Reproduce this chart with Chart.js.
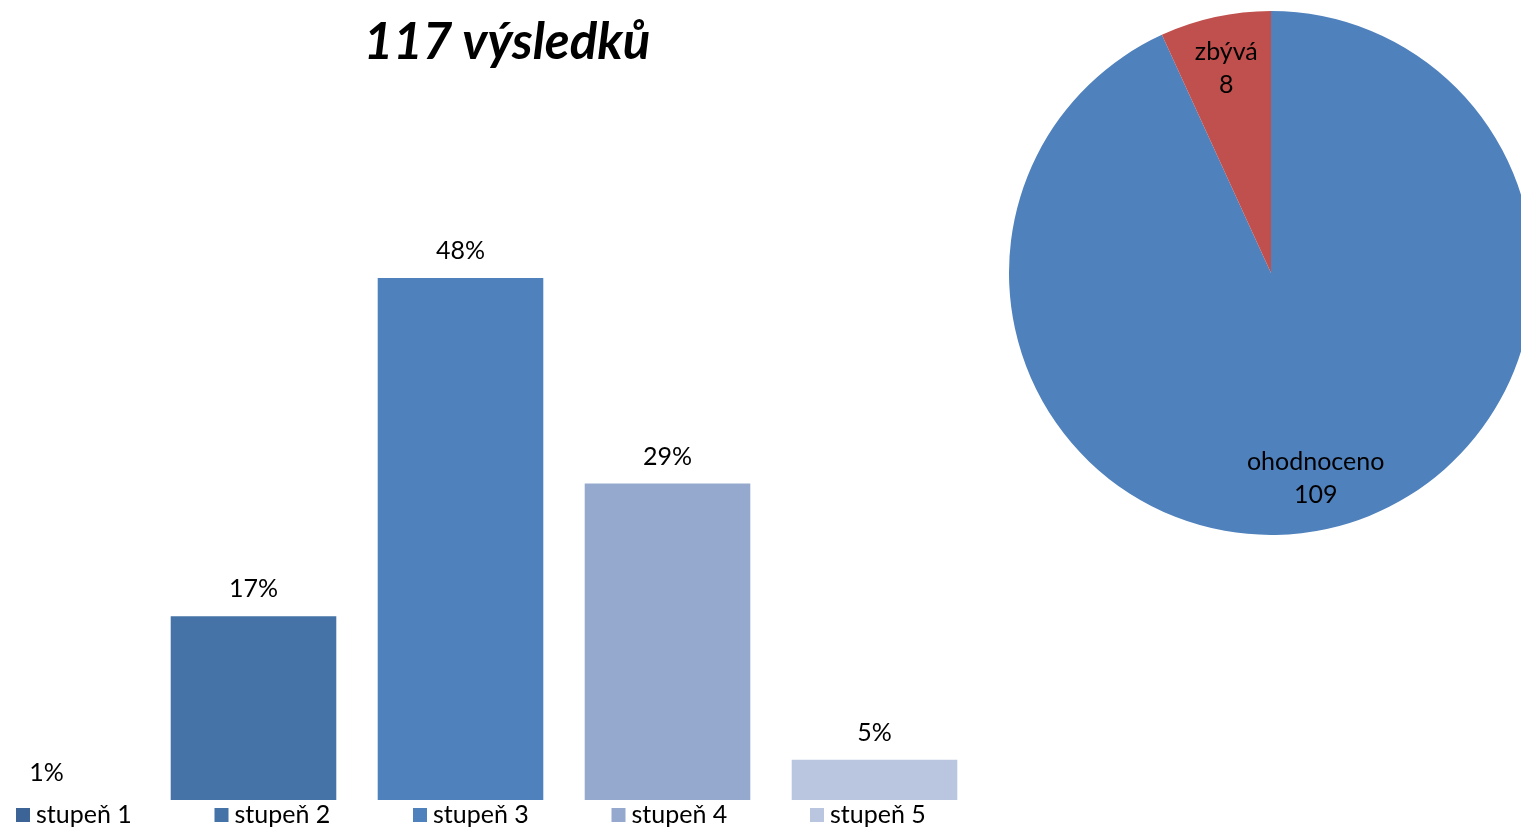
<!DOCTYPE html>
<html>
<head>
<meta charset="utf-8">
<script src="https://cdn.jsdelivr.net/npm/chart.js@4.4.1/dist/chart.umd.min.js"></script>
<style>
  html, body { margin: 0; padding: 0; width: 1521px; height: 829px; overflow: hidden; background: #ffffff; }
  #title { position: absolute; left: 0; top: 9px; width: 1014px; text-align: center;
           font-family: Lato, "Open Sans", sans-serif; font-style: italic; font-weight: 700;
           font-size: 51px; line-height: 62px; color: #000; margin: 0; }
  #bar { position: absolute; left: -57px; top: 140px; }
  #pie { position: absolute; left: 1009px; top: 11px; }
</style>
</head>
<body>
<div id="title"></div>
<canvas id="bar" width="1035" height="689"></canvas>
<canvas id="pie" width="524" height="524"></canvas>
<script>
// ---- data ----
const titleText = '117 výsledků';
const categories = ['stupeň 1', 'stupeň 2', 'stupeň 3', 'stupeň 4', 'stupeň 5'];
const barValues = [0, 16.9, 48.0, 29.1, 3.7];
const barLabels = ['1%', '17%', '48%', '29%', '5%'];
const pieCategories = ['ohodnoceno', 'zbývá'];
const pieValues = [109, 8];

// ---- styles ----
const barColors = ['#3D6496', '#4573A7', '#4F81BD', '#95A9CF', '#BAC6E0'];
const pieColors = ['#4F81BD', '#C0504D'];
const FONT = 'Lato, "Open Sans", sans-serif';
const TEXT_SIZE = 25;

document.getElementById('title').textContent = titleText;

const barLabelPlugin = {
  id: 'barLabelPlugin',
  afterDatasetsDraw(chart) {
    const ctx = chart.ctx;
    const meta = chart.getDatasetMeta(0);
    ctx.save();
    ctx.font = TEXT_SIZE + 'px ' + FONT;
    ctx.fillStyle = '#000';
    ctx.textAlign = 'center';
    ctx.textBaseline = 'middle';
    meta.data.forEach((bar, i) => {
      ctx.fillText(barLabels[i], bar.x, bar.y - 27);
    });
    ctx.restore();
  }
};

const barLegendPlugin = {
  id: 'barLegendPlugin',
  afterDraw(chart) {
    const ctx = chart.ctx;
    const area = chart.chartArea;
    ctx.save();
    ctx.font = TEXT_SIZE + 'px ' + FONT;
    ctx.textAlign = 'left';
    ctx.textBaseline = 'middle';
    const y = area.bottom + 15;
    categories.forEach((c, i) => {
      const x = area.left + 73 + i * 198.5;
      ctx.fillStyle = barColors[i];
      ctx.fillRect(x, y - 7, 14, 14);
      ctx.fillStyle = '#000';
      ctx.fillText(c, x + 20, y);
    });
    ctx.restore();
  }
};

new Chart(document.getElementById('bar'), {
  type: 'bar',
  data: {
    labels: categories,
    datasets: [{
      data: barValues,
      backgroundColor: barColors,
      borderWidth: 0,
      barPercentage: 1.0,
      categoryPercentage: 0.8
    }]
  },
  options: {
    responsive: false,
    devicePixelRatio: 1,
    animation: false,
    layout: { padding: { top: 7.5, bottom: 29, left: 0, right: 0 } },
    plugins: { legend: { display: false }, tooltip: { enabled: false }, title: { display: false } },
    scales: {
      x: { display: false, offset: true },
      y: { display: false, min: 0, max: 60 }
    }
  },
  plugins: [barLabelPlugin, barLegendPlugin]
});

const pieLabelPlugin = {
  id: 'pieLabelPlugin',
  afterDatasetsDraw(chart) {
    const ctx = chart.ctx;
    const meta = chart.getDatasetMeta(0);
    ctx.save();
    ctx.font = TEXT_SIZE + 'px ' + FONT;
    ctx.fillStyle = '#000';
    ctx.textAlign = 'center';
    ctx.textBaseline = 'middle';
    meta.data.forEach((arc, i) => {
      const p = arc.getProps(['x', 'y', 'startAngle', 'endAngle', 'outerRadius'], true);
      const mid = (p.startAngle + p.endAngle) / 2;
      const r = p.outerRadius * 0.8;
      const x = p.x + Math.cos(mid) * r;
      const y = p.y + Math.sin(mid) * r;
      ctx.fillText(pieCategories[i], x, y - 16);
      ctx.fillText(String(pieValues[i]), x, y + 17);
    });
    ctx.restore();
  }
};

new Chart(document.getElementById('pie'), {
  type: 'pie',
  data: {
    labels: pieCategories,
    datasets: [{ data: pieValues, backgroundColor: pieColors, borderWidth: 0 }]
  },
  options: {
    responsive: false,
    devicePixelRatio: 1,
    animation: false,
    rotation: 0,
    layout: { padding: 0 },
    plugins: { legend: { display: false }, tooltip: { enabled: false } }
  },
  plugins: [pieLabelPlugin]
});
</script>
</body>
</html>
